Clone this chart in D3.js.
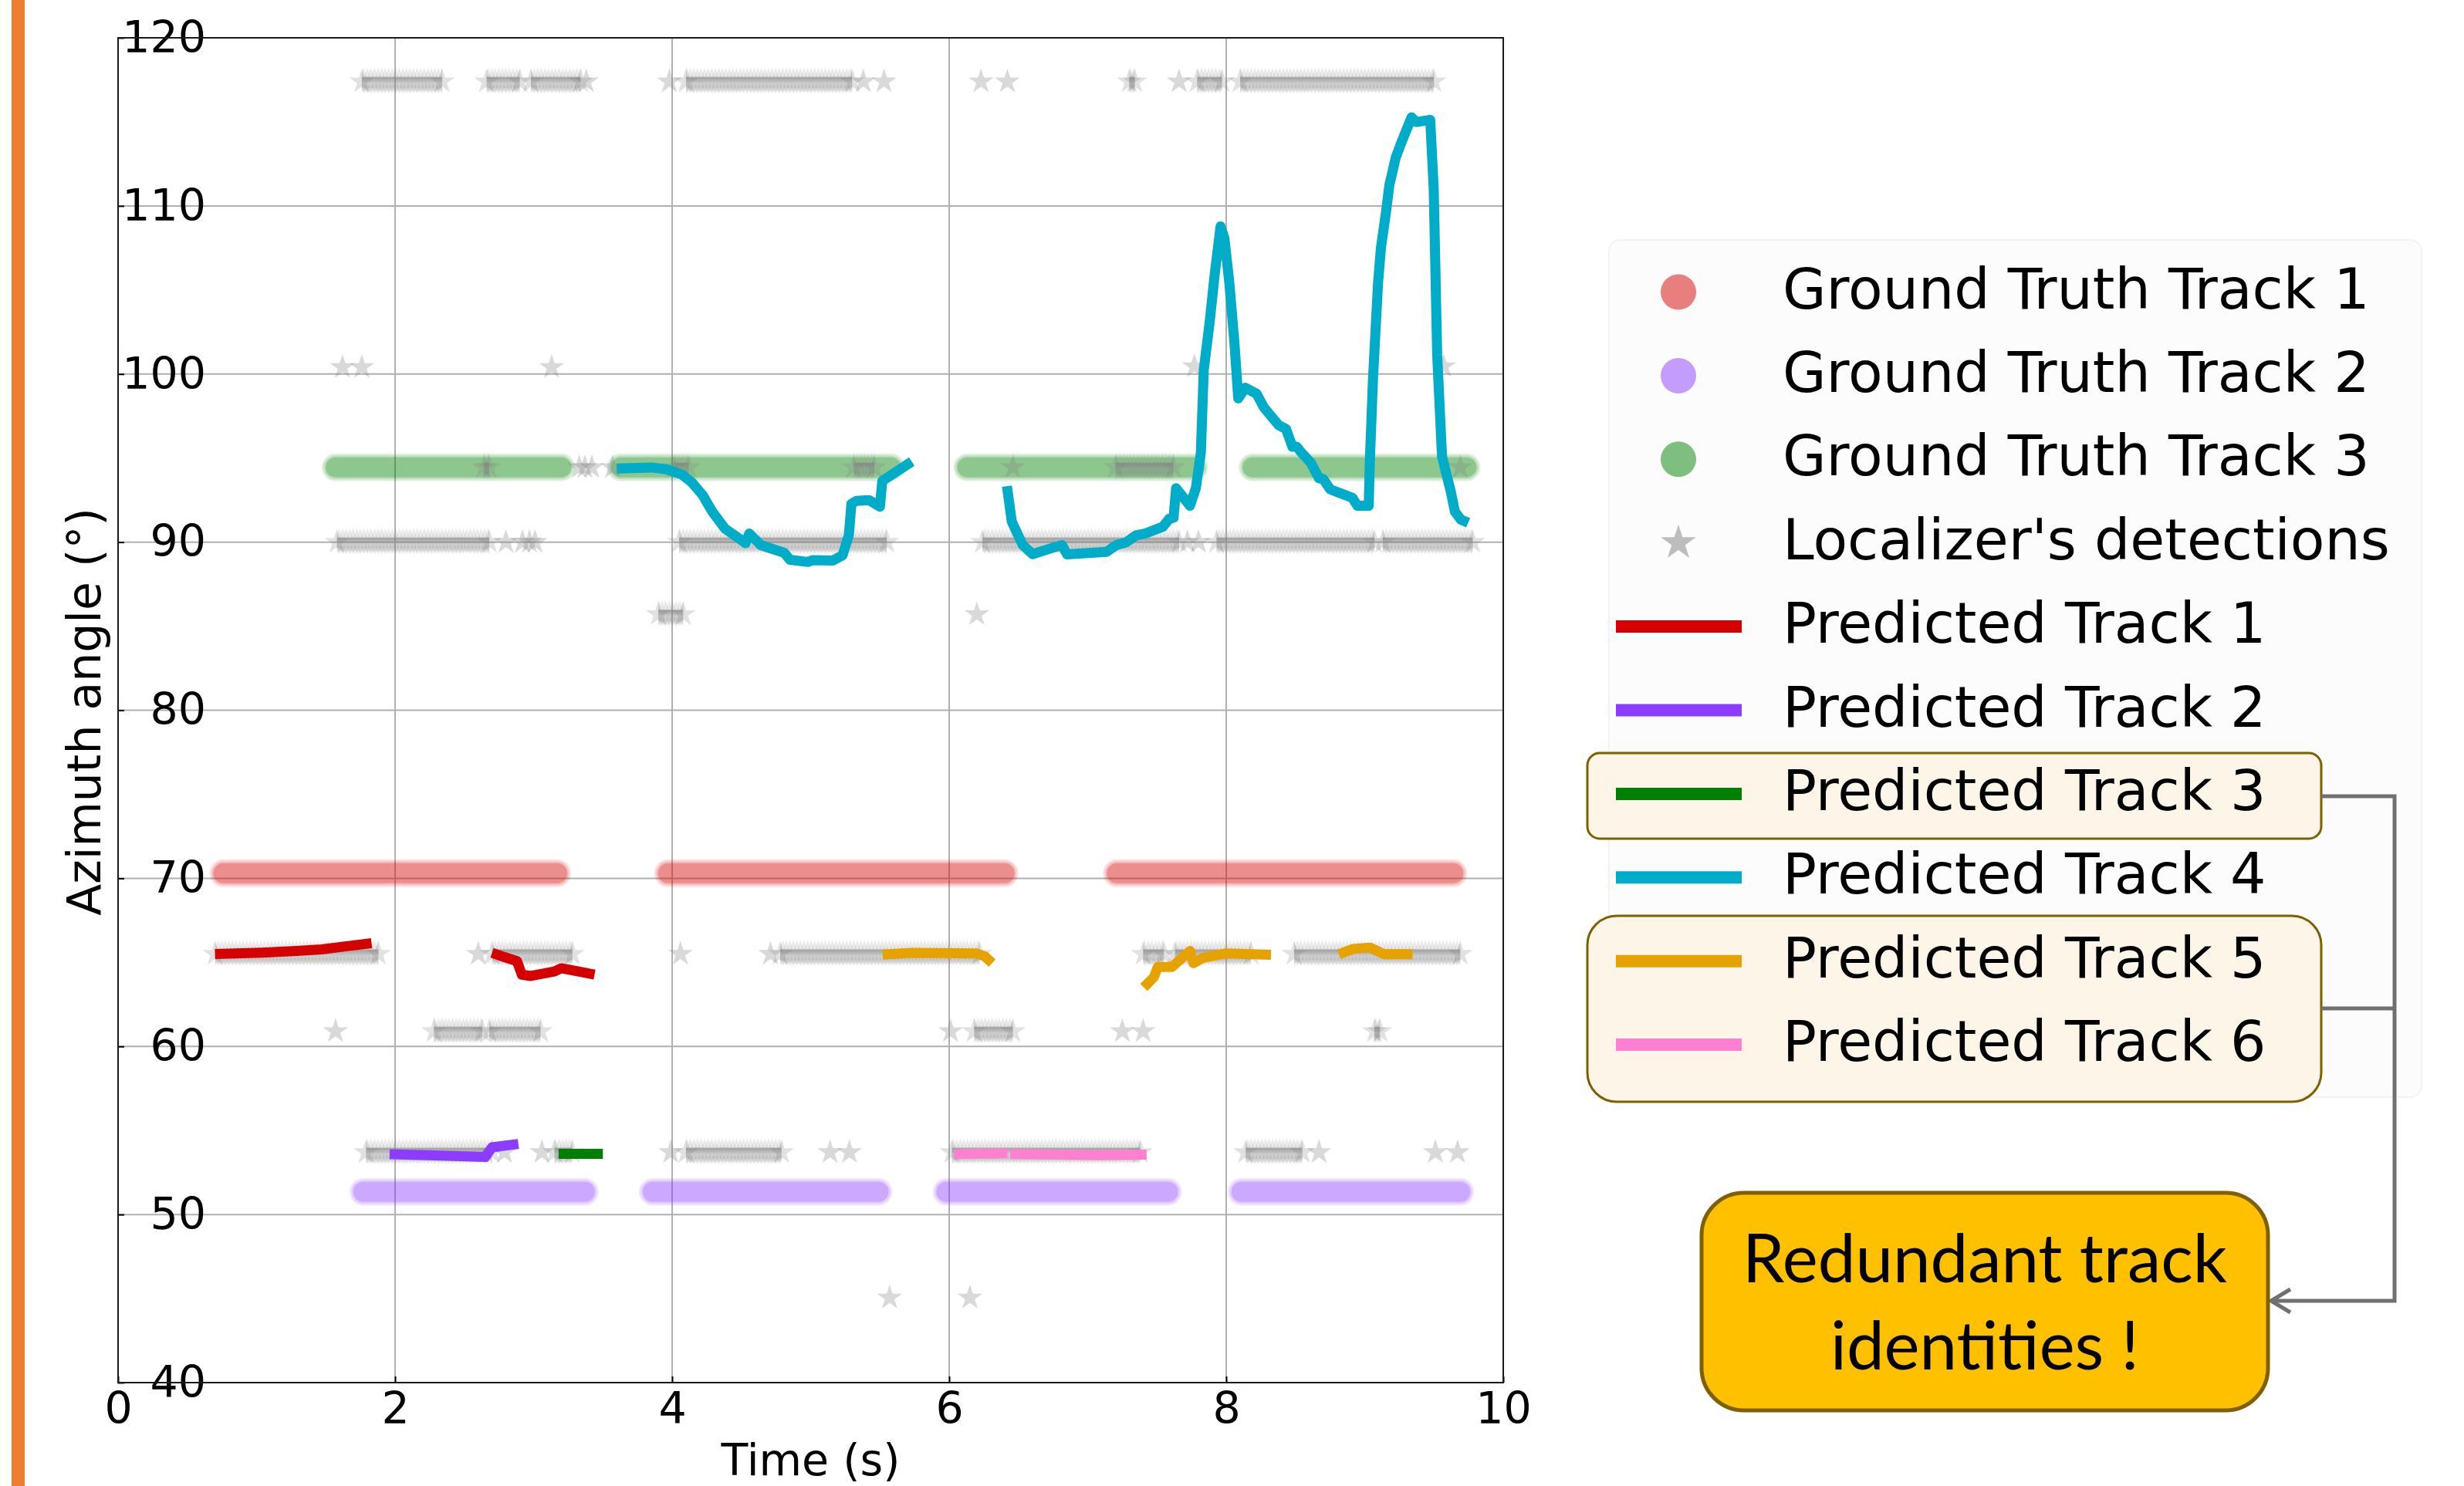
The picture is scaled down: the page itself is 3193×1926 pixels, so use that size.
<!DOCTYPE html>
<html>
<head>
<meta charset="utf-8">
<script src="https://cdn.jsdelivr.net/npm/d3@7"></script>
<style>
  html, body { margin: 0; padding: 0; background: #fff; }
  svg { display: block; }
  text { font-family: "DejaVu Sans", sans-serif; }
</style>
</head>
<body>
<svg id="chart" width="3193" height="1926"></svg>
<script>
// ---------------- DATA ----------------
const xTicks = [0, 2, 4, 6, 8, 10];
const yTicks = [40, 50, 60, 70, 80, 90, 100, 110, 120];

// Ground-truth tracks: constant azimuth over time intervals [start, end]
const gt1Angle = 70.3;
const gt1Segments = [[0.76, 3.17], [3.97, 6.40], [7.21, 9.64]];
const gt2Angle = 51.35;
const gt2Segments = [[1.77, 3.37], [3.86, 5.49], [5.98, 7.58], [8.11, 9.69]];
const gt3Angle = 94.45;
const gt3Segments = [[1.57, 3.20], [3.63, 5.58], [6.13, 7.77], [8.19, 9.735]];

// Localizer detections: dense runs [t0, t1, angle] and isolated detections [t, angle]
const detectionRuns = [
  [1.76, 2.34, 117.4], [2.66, 2.90, 117.4], [2.98, 3.34, 117.4], [4.10, 5.30, 117.4],
  [7.30, 7.34, 117.4], [7.79, 7.97, 117.4], [8.10, 9.50, 117.4],
  [2.64, 2.68, 94.45], [4.01, 4.12, 94.45], [5.31, 5.46, 94.45], [7.20, 7.62, 94.45],
  [1.58, 2.68, 90.0], [4.05, 5.55, 90.0], [6.24, 7.66, 90.0], [7.93, 9.07, 90.0], [9.13, 9.78, 90.0],
  [3.90, 4.08, 85.7],
  [0.70, 1.88, 65.5], [2.70, 3.28, 65.5], [4.78, 6.22, 65.5], [7.40, 7.55, 65.5],
  [7.63, 8.18, 65.5], [8.49, 9.69, 65.5],
  [2.28, 2.63, 60.9], [2.68, 3.05, 60.9], [6.18, 6.46, 60.9], [9.07, 9.11, 60.9],
  [1.79, 2.70, 53.7], [3.15, 3.28, 53.7], [4.10, 4.79, 53.7], [6.02, 7.38, 53.7], [8.14, 8.55, 53.7]
];
const detectionSingles = [
  [3.38, 117.4], [3.98, 117.4], [5.38, 117.4], [5.53, 117.4], [6.23, 117.4], [6.42, 117.4], [7.66, 117.4],
  [1.62, 100.4], [1.76, 100.4], [3.13, 100.4], [7.77, 100.45], [9.57, 100.45],
  [3.33, 94.45], [3.37, 94.45], [3.42, 94.45], [3.57, 94.45], [6.46, 94.45], [9.69, 94.45],
  [2.80, 90.0], [2.92, 90.0], [2.97, 90.0], [3.01, 90.0], [7.72, 90.0], [7.80, 90.0],
  [6.20, 85.7],
  [2.60, 65.5], [4.06, 65.5], [4.71, 65.5],
  [1.57, 60.9], [6.01, 60.9], [7.25, 60.9], [7.40, 60.9],
  [2.79, 53.7], [3.06, 53.7], [3.99, 53.7], [5.14, 53.7], [5.28, 53.7], [8.67, 53.7], [9.51, 53.7], [9.67, 53.7],
  [5.57, 45.05], [6.15, 45.05]
];

// Predicted tracks: each a list of segments, each segment a list of [t, angle]
const pred1 = [
  [[0.70, 65.50], [1.04, 65.58], [1.29, 65.68], [1.47, 65.77], [1.64, 65.95], [1.83, 66.14]],
  [[2.70, 65.57], [2.79, 65.31], [2.88, 65.07], [2.915, 64.27], [2.98, 64.19], [3.15, 64.46], [3.20, 64.65], [3.44, 64.27]]
];
const pred2 = [
  [[1.96, 53.59], [2.28, 53.52], [2.65, 53.42], [2.70, 54.00], [2.89, 54.20]]
];
const pred3 = [
  [[3.18, 53.61], [3.50, 53.61]]
];
const pred4 = [
  [[3.60, 94.38], [3.85, 94.44], [3.96, 94.33], [4.07, 94.03], [4.14, 93.57], [4.22, 92.80],
   [4.29, 91.81], [4.38, 90.81], [4.46, 90.35], [4.53, 89.94], [4.557, 90.51], [4.64, 89.82],
   [4.81, 89.36], [4.85, 88.95], [4.98, 88.82], [5.016, 88.93], [5.16, 88.90], [5.23, 89.21],
   [5.276, 90.43], [5.294, 92.27], [5.33, 92.45], [5.42, 92.50], [5.50, 92.11], [5.517, 93.64],
   [5.73, 94.79]],
  [[6.417, 93.33], [6.452, 91.22], [6.531, 89.82], [6.602, 89.28], [6.762, 89.70], [6.815, 89.82],
   [6.851, 89.27], [7.135, 89.42], [7.206, 89.82], [7.277, 89.98], [7.348, 90.40], [7.419, 90.52],
   [7.543, 90.92], [7.589, 91.39], [7.62, 91.45], [7.638, 93.21], [7.738, 92.16], [7.781, 93.21],
   [7.817, 95.32], [7.838, 100.24], [7.880, 103.05], [7.916, 105.86], [7.959, 108.78], [7.987, 108.08],
   [8.023, 105.39], [8.059, 101.88], [8.087, 98.55], [8.137, 99.18], [8.219, 98.83], [8.272, 98.01],
   [8.343, 97.31], [8.378, 96.96], [8.432, 96.73], [8.478, 95.67], [8.51, 95.67], [8.538, 95.37],
   [8.609, 94.74], [8.670, 93.80], [8.70, 93.75], [8.751, 93.14], [8.840, 92.86], [8.911, 92.63],
   [8.947, 92.16], [9.029, 92.16], [9.036, 94.62], [9.060, 99.77], [9.096, 105.39], [9.117, 107.50],
   [9.153, 109.61], [9.178, 111.24], [9.224, 112.88], [9.267, 113.82], [9.338, 115.27], [9.373, 114.99],
   [9.473, 115.11], [9.498, 111.01], [9.523, 101.17], [9.558, 95.09], [9.622, 92.98], [9.651, 91.81],
   [9.694, 91.34], [9.747, 91.15]]
];
const pred5 = [
  [[5.52, 65.46], [5.73, 65.57], [6.20, 65.53], [6.26, 65.34], [6.31, 64.96]],
  [[7.405, 63.51], [7.478, 64.12], [7.507, 64.73], [7.609, 64.73], [7.739, 65.68], [7.763, 64.96],
   [7.833, 65.27], [7.996, 65.53], [8.323, 65.45]],
  [[8.814, 65.48], [8.916, 65.80], [9.039, 65.88], [9.141, 65.48], [9.345, 65.48]]
];
const pred6 = [
  [[6.035, 53.59], [6.42, 53.64]],
  [[6.44, 53.60], [7.078, 53.53], [7.425, 53.56]]
];

const legendLabels = [
  "Ground Truth Track 1", "Ground Truth Track 2", "Ground Truth Track 3",
  "Localizer's detections",
  "Predicted Track 1", "Predicted Track 2", "Predicted Track 3",
  "Predicted Track 4", "Predicted Track 5", "Predicted Track 6"
];
const calloutLines = ["Redundant track", "identities !"];

// ---------------- STYLE ----------------
const colRed = "#d50000", colPurple = "#8c3cff", colGreen = "#008000",
      colCyan = "#00acc8", colOrange = "#e6a300", colPink = "#ff80d0";
const starGray = "#808080";

// ---------------- DRAW ----------------
const svg = d3.select("#chart");
svg.append("rect").attr("width", 3193).attr("height", 1926).attr("fill", "#fff");

// orange vertical bar
svg.append("rect").attr("x", 15).attr("y", 0).attr("width", 17).attr("height", 1926).attr("fill", "#ed7d31");

const L = 153, R = 1948, T = 49, B = 1792;
const x = d3.scaleLinear().domain([0, 10]).range([L, R]);
const y = d3.scaleLinear().domain([40, 120]).range([B, T]);

// grid
const grid = svg.append("g");
grid.selectAll(".gx").data(xTicks.slice(1, -1)).join("line")
  .attr("x1", d => x(d)).attr("x2", d => x(d)).attr("y1", T).attr("y2", B)
  .attr("stroke", "#b0b0b0").attr("stroke-width", 2);
grid.selectAll(".gy").data(yTicks.slice(1, -1)).join("line")
  .attr("x1", L).attr("x2", R).attr("y1", d => y(d)).attr("y2", d => y(d))
  .attr("stroke", "#b0b0b0").attr("stroke-width", 2);

const plot = svg.append("g");

// star glyph & pattern for dense detection runs
const starR = 17;
const starSym = d3.symbol().type(d3.symbolStar).size(starR * starR / 0.8908130915292852);
const defs = svg.append("defs");
const pSpace = 4.6;
const pat = defs.append("pattern").attr("id", "starrun")
  .attr("patternUnits", "userSpaceOnUse")
  .attr("x", 0).attr("y", -22).attr("width", pSpace).attr("height", 44);
d3.range(-4, 5).forEach(k => {
  pat.append("path").attr("d", starSym())
    .attr("transform", `translate(${pSpace / 2 + k * pSpace},22)`)
    .attr("fill", starGray).attr("fill-opacity", 0.15)
    .attr("stroke", starGray).attr("stroke-opacity", 0.08).attr("stroke-width", 1.5);
});

// ground truth bands
function drawGT(segments, angle, color) {
  const g = plot.append("g");
  [[36, 0.12], [31, 0.15], [26, 0.25]].forEach(([w, o]) => {
    g.selectAll(null).data(segments).join("line")
      .attr("x1", d => x(d[0])).attr("x2", d => x(d[1]))
      .attr("y1", y(angle)).attr("y2", y(angle))
      .attr("stroke", color).attr("stroke-opacity", o)
      .attr("stroke-width", w).attr("stroke-linecap", "round");
  });
}
drawGT(gt1Segments, gt1Angle, colRed);
drawGT(gt2Segments, gt2Angle, colPurple);
drawGT(gt3Segments, gt3Angle, colGreen);

// detections
const det = plot.append("g");
det.selectAll(".run").data(detectionRuns).join("g")
  .attr("transform", d => `translate(0,${y(d[2])})`)
  .each(function (d) {
    const g = d3.select(this);
    g.append("rect").attr("x", x(d[0])).attr("width", Math.max(1, x(d[1]) - x(d[0])))
      .attr("y", -22).attr("height", 44).attr("fill", "url(#starrun)");
    [d[0], d[1]].forEach(t => {
      g.append("path").attr("d", starSym()).attr("transform", `translate(${x(t)},0)`)
        .attr("fill", starGray).attr("fill-opacity", 0.24);
    });
  });
det.selectAll(".single").data(detectionSingles).join("path")
  .attr("d", starSym())
  .attr("transform", d => `translate(${x(d[0])},${y(d[1])})`)
  .attr("fill", starGray).attr("fill-opacity", 0.3);

// predicted tracks
const line = d3.line().x(d => x(d[0])).y(d => y(d[1]));
function drawPred(segs, color) {
  plot.append("g").selectAll("path").data(segs).join("path")
    .attr("d", line).attr("fill", "none").attr("stroke", color)
    .attr("stroke-width", 13).attr("stroke-linejoin", "round").attr("stroke-linecap", "butt");
}
drawPred(pred1, colRed);
drawPred(pred2, colPurple);
drawPred(pred3, colGreen);
drawPred(pred4, colCyan);
drawPred(pred5, colOrange);
drawPred(pred6, colPink);

// axes
const yAxis = d3.axisLeft(y).tickValues(yTicks).tickSizeInner(-8).tickSizeOuter(0).tickPadding(-114);
const xAxis = d3.axisBottom(x).tickValues(xTicks).tickSizeInner(-8).tickSizeOuter(0).tickPadding(13);
const ya = svg.append("g").attr("transform", `translate(${L},0)`).call(yAxis);
const xa = svg.append("g").attr("transform", `translate(0,${B})`).call(xAxis);
[ya, xa].forEach(a => {
  a.select(".domain").remove();
  a.selectAll(".tick line").attr("stroke", "#000").attr("stroke-width", 2);
  a.selectAll(".tick text").attr("fill", "#000").style("font-size", "57px")
    .style("font-family", "DejaVu Sans");
});

// spines
svg.append("rect").attr("x", L).attr("y", T).attr("width", R - L).attr("height", B - T)
  .attr("fill", "none").attr("stroke", "#1a1a1a").attr("stroke-width", 2);

// axis titles
svg.append("text").attr("x", (L + R) / 2).attr("y", 1912).attr("text-anchor", "middle")
  .style("font-size", "57px").text("Time (s)");
svg.append("text").attr("transform", `translate(130,${(T + B) / 2 + 2}) rotate(-90)`)
  .attr("text-anchor", "middle").style("font-size", "60px").text("Azimuth angle (°)");

// ---------------- LEGEND ----------------
const lg = svg.append("g");
lg.append("rect").attr("x", 2085).attr("y", 311).attr("width", 1053).attr("height", 1111)
  .attr("rx", 15).attr("fill", "#fcfcfc").attr("stroke", "#f2f2f2").attr("stroke-width", 2);

// highlight boxes
lg.append("rect").attr("x", 2057).attr("y", 976).attr("width", 951).attr("height", 111).attr("rx", 16)
  .attr("fill", "#fdf6e8").attr("stroke", "#7f6000").attr("stroke-width", 3);
lg.append("rect").attr("x", 2057).attr("y", 1187).attr("width", 951).attr("height", 241).attr("rx", 38)
  .attr("fill", "#fdf6e8").attr("stroke", "#7f6000").attr("stroke-width", 3);

const rowY = i => 378.5 + i * 108.4;
const markerX = 2175;
const gtColors = [colRed, colPurple, colGreen];
const predColors = [colRed, colPurple, colGreen, colCyan, colOrange, colPink];
legendLabels.forEach((lab, i) => {
  const yy = rowY(i);
  if (i < 3) {
    lg.append("circle").attr("cx", markerX).attr("cy", yy).attr("r", 23)
      .attr("fill", gtColors[i]).attr("fill-opacity", 0.5);
  } else if (i === 3) {
    lg.append("path").attr("d", d3.symbol().type(d3.symbolStar).size(24 * 24 / 0.8908130915292852)())
      .attr("transform", `translate(${markerX},${yy})`).attr("fill", "#bdbdbd");
  } else {
    lg.append("line").attr("x1", 2094).attr("x2", 2257).attr("y1", yy).attr("y2", yy)
      .attr("stroke", predColors[i - 4]).attr("stroke-width", 16);
  }
  lg.append("text").attr("x", 2310).attr("y", yy + 21).style("font-size", "73px").attr("fill", "#000").text(lab);
});

// connector with arrow
const conn = svg.append("g").attr("fill", "none").attr("stroke", "#707070").attr("stroke-width", 5);
conn.append("path").attr("d", "M3008,1032 H3103 V1686 H2943");
conn.append("path").attr("d", "M3008,1307 H3103");
conn.append("path").attr("d", "M2968,1671 L2943,1686 L2968,1701").attr("stroke-linejoin", "miter");

// callout box
svg.append("rect").attr("x", 2205).attr("y", 1546).attr("width", 734).attr("height", 282).attr("rx", 55)
  .attr("fill", "#ffc000").attr("stroke", "#7f6000").attr("stroke-width", 5);
svg.selectAll(".callout").data(calloutLines).join("text")
  .attr("x", 2572).attr("y", (d, i) => 1662 + i * 113).attr("text-anchor", "middle")
  .style("font-family", "Lato, 'Open Sans', sans-serif").style("font-size", "87px").attr("fill", "#000")
  .text(d => d);
</script>
</body>
</html>
